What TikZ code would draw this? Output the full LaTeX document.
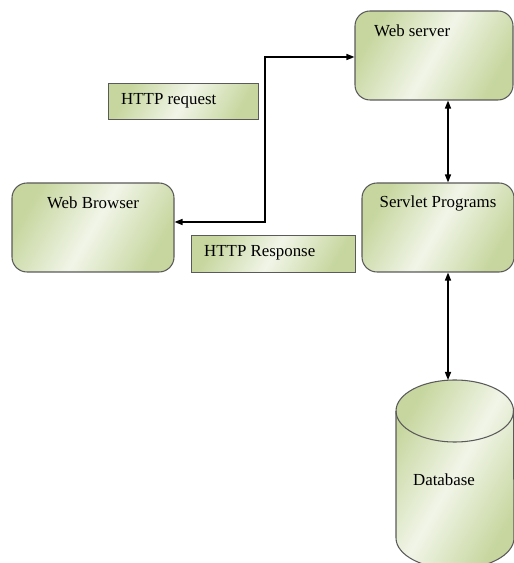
\documentclass[tikz,border=0pt]{standalone}
\usepackage{fontspec}
\setmainfont{Liberation Serif}
\usetikzlibrary{arrows.meta}
\definecolor{boxdark}{RGB}{198,214,158}
\definecolor{boxlight}{RGB}{241,245,232}
\definecolor{boxline}{RGB}{90,90,90}
\begin{document}
\begin{tikzpicture}[
			font=\fontsize{9.6}{11}\selectfont,
			>={Triangle[length=0.16cm,width=0.12cm]},
			green fill/.style={left color=boxdark, right color=boxdark, middle color=boxlight, shading angle=60},
			block/.style={draw=boxline, line width=0.6pt, rounded corners=0.3cm, green fill},
			tag/.style={draw=boxline, line width=0.6pt, green fill, anchor=north west},
			link/.style={<->, line width=0.8pt}
		]
		\useasboundingbox (0,0) rectangle (10.28,11.26);
		% boxes
		\node[block, minimum width=3.16cm, minimum height=1.78cm] (server) at (8.68,10.15) {};
		\node[block, minimum width=3.24cm, minimum height=1.78cm] (browser) at (1.86,6.71) {};
		\node[block, minimum width=3.04cm, minimum height=1.78cm] (servlet) at (8.76,6.71) {};
		\node[tag, minimum width=3.0cm, minimum height=0.72cm] (request) at (2.16,9.60) {};
		\node[tag, minimum width=3.28cm, minimum height=0.74cm] (response) at (3.82,6.56) {};
		% database cylinder
		\path[draw=boxline, line width=0.6pt, green fill] (7.92,3.04) -- (7.92,0.50)
			arc[start angle=180, end angle=360, x radius=1.18cm, y radius=0.62cm] -- (10.27,3.04)
			arc[start angle=0, end angle=180, x radius=1.175cm, y radius=0.62cm] -- cycle;
		\draw[boxline, line width=0.6pt] (7.92,3.04)
			arc[start angle=180, end angle=360, x radius=1.175cm, y radius=0.62cm];
		\coordinate (db top) at (8.96,3.66);
		% texts
		\node[anchor=west] (server text) at (7.36,10.64) {Web server};
		\node (browser text) at (1.86,7.20) {Web Browser};
		\node (servlet text) at (8.76,7.20) {Servlet Programs};
		\node[anchor=west] (request text) at (2.30,9.24) {HTTP request};
		\node[anchor=west] (response text) at (3.96,6.20) {HTTP Response};
		\node (db text) at (8.88,1.66) {Database};
		% connectors
		\coordinate (top bend) at (5.30,10.12);
		\coordinate (low bend) at (5.30,6.82);
		\draw[link] (browser.east |- low bend) -- (low bend) -- (top bend) -- (server.west |- top bend);
		\draw[link] (server.south -| db top) -- (servlet.north -| db top);
		\draw[link] (servlet.south -| db top) -- (db top);
	\end{tikzpicture}
\end{document}
